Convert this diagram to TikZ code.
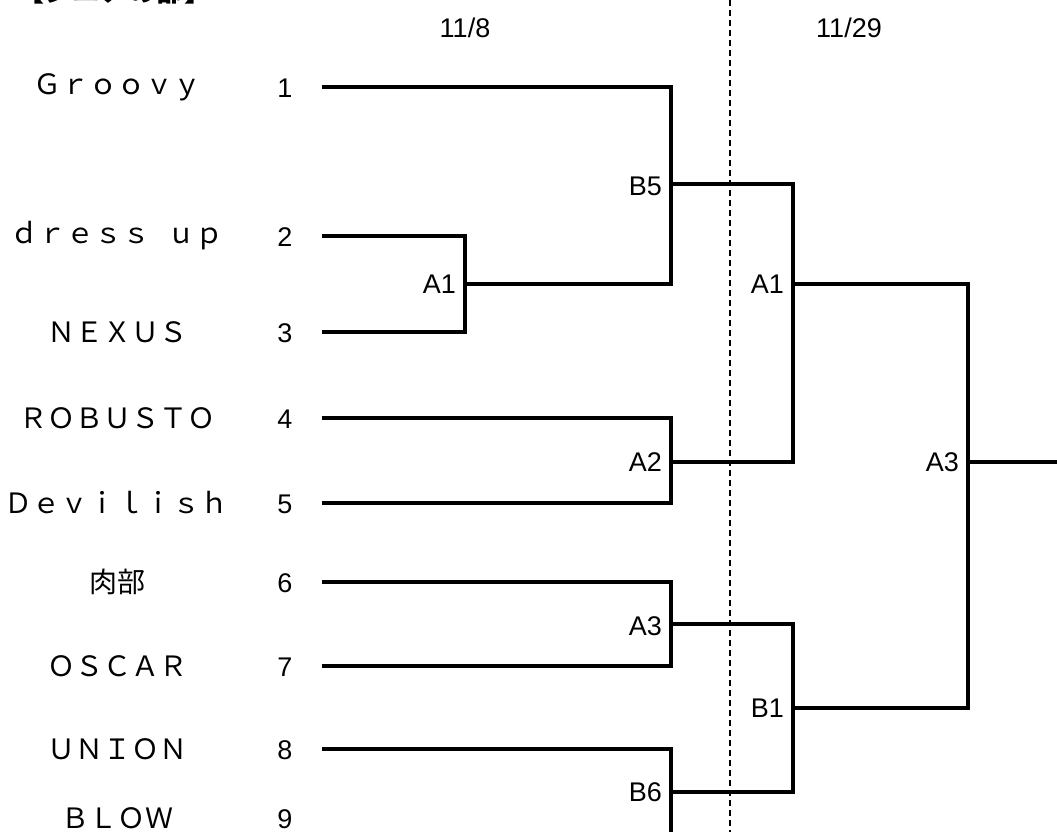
\documentclass[tikz,border=0pt]{standalone}
\usepackage{fontspec}
\setmainfont{Liberation Sans}
\newfontfamily\jp{Noto Sans CJK JP}
\newfontfamily\jpt{Noto Sans CJK JP}
\begin{document}
\begin{tikzpicture}[x=1pt,y=-1pt,
  br/.style={line width=3.8pt, line join=miter},
  team/.style={font=\jp\fontsize{28}{28}\selectfont, inner sep=0pt, anchor=center},
  num/.style={font=\fontsize{27}{27}\selectfont, inner sep=0pt, anchor=center},
  lbl/.style={font=\fontsize{27}{27}\selectfont, inner sep=0pt, anchor=east},
  datel/.style={font=\fontsize{27}{27}\selectfont, inner sep=0pt, anchor=center},
  divider/.style={line width=1.8pt, dash pattern=on 6pt off 4pt}]
\useasboundingbox (0,0) rectangle (1057,832);
% title (mostly cut off at top)
\node[font=\jpt\bfseries\fontsize{28}{28}\selectfont, inner sep=0pt, anchor=base west] (title) at (16,2) {【シニアの部】};
% dates
\node[datel] (d1) at (465,28) {11/8};
\node[datel] (d2) at (849,28) {11/29};
% divider
\coordinate (dtop) at (730,0);
\coordinate (dbot) at (730,832);
\draw[divider] (dtop) -- (dbot);
% team names and numbers
\foreach \i/\y/\t in {1/87/Ｇｒｏｏｖｙ, 2/236/ｄｒｅｓｓ\hspace{17pt}ｕｐ, 3/332/ＮＥＸＵＳ, 4/418/ＲＯＢＵＳＴＯ, 5/503/Ｄｅｖｉｌｉｓｈ, 6/582/肉部, 7/666/ＯＳＣＡＲ, 8/749/ＵＮＩＯＮ, 9/818/ＢＬＯＷ}{
  \node[team] (t\i) at (117,\y) {\t};
  \node[num] (n\i) at (285,\y+1) {\i};
}
% entry points
\coordinate (p1) at (322,87);
\coordinate (p2) at (322,236);
\coordinate (p3) at (322,332);
\coordinate (p4) at (322,418);
\coordinate (p5) at (322,503);
\coordinate (p6) at (322,582);
\coordinate (p7) at (322,666);
\coordinate (p8) at (322,749);
\coordinate (p9) at (322,836);
% junctions
\coordinate (jA1) at (465,284);
\coordinate (jB5) at (671,184);
\coordinate (jA2) at (671,462);
\coordinate (jA3a) at (671,624);
\coordinate (jB6) at (671,792);
\coordinate (jA1b) at (793,284);
\coordinate (jB1) at (793,708);
\coordinate (jF) at (968,462);
\coordinate (fin) at (1060,462);
% brackets
\draw[br] (p2) -| (jA1) |- (p3);
\draw[br] (p1) -| (jB5) |- (jA1);
\draw[br] (p4) -| (jA2) |- (p5);
\draw[br] (p6) -| (jA3a) |- (p7);
\draw[br] (p8) -| (jB6) |- (p9);
\draw[br] (jB5) -| (jA1b) |- (jA2);
\draw[br] (jA3a) -| (jB1) |- (jB6);
\draw[br] (jA1b) -| (jF) |- (jB1);
\draw[br] (jF) -- (fin);
% match labels
\node[lbl] (lA1) at ([xshift=-9pt,yshift=0pt]jA1) {A1};
\node[lbl] (lB5) at ([xshift=-9pt,yshift=-2pt]jB5) {B5};
\node[lbl] (lA2) at ([xshift=-9pt,yshift=0pt]jA2) {A2};
\node[lbl] (lA3a) at ([xshift=-9pt,yshift=-2pt]jA3a) {A3};
\node[lbl] (lB6) at ([xshift=-9pt,yshift=0pt]jB6) {B6};
\node[lbl] (lA1b) at ([xshift=-9pt,yshift=0pt]jA1b) {A1};
\node[lbl] (lB1) at ([xshift=-9pt,yshift=0pt]jB1) {B1};
\node[lbl] (lF) at ([xshift=-9pt,yshift=0pt]jF) {A3};
\end{tikzpicture}
\end{document}
